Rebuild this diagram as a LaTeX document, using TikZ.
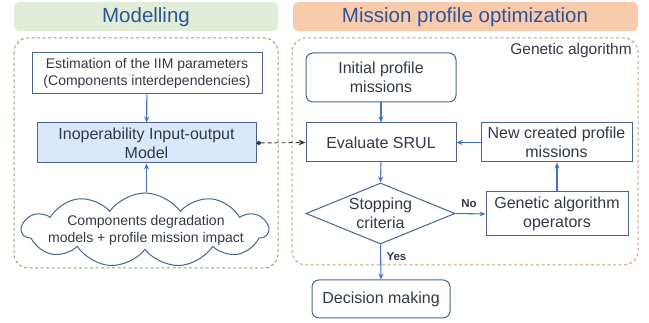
\documentclass[tikz,border=0pt]{standalone}
\usepackage{fontspec}
\setmainfont{Liberation Sans}
\usetikzlibrary{shapes.geometric,shapes.symbols,arrows.meta}
\definecolor{hdrgreen}{HTML}{E0EDD8}
\definecolor{hdrpeach}{HTML}{F8CBAD}
\definecolor{hdrtext}{HTML}{2F5597}
\definecolor{grndash}{HTML}{86AE62}
\definecolor{tandash}{HTML}{C4A183}
\definecolor{boxline}{HTML}{4A6491}
\definecolor{boxtext}{HTML}{333A45}
\definecolor{arrowblue}{HTML}{4472C4}
\definecolor{iimfill}{HTML}{DAE8FC}
\tikzset{
  hdr/.style={draw=none, rounded corners=4pt, text=hdrtext, font=\fontsize{20.5}{24}\selectfont, inner sep=0pt},
  cont/.style={rounded corners=14pt, line width=1pt, dash pattern=on 3pt off 2.5pt},
  procbox/.style={draw=boxline, fill=white, line width=1pt, text=boxtext, align=center, inner sep=0pt},
  rbox/.style={procbox, rounded corners=7pt},
  flow/.style={draw=arrowblue, line width=1.1pt, -{Stealth[length=6pt,width=5pt]}},
  lbl/.style={font=\bfseries\fontsize{11.5}{13}\selectfont, text=boxtext}
}
\begin{document}
\begin{tikzpicture}[x=1pt,y=-1pt]
\useasboundingbox (0,0) rectangle (649,323);
% headers
\fill[hdrgreen, rounded corners=5pt] (14,2) rectangle (278,31);
\node[hdr] (hmod) at (146,17) {Modelling};
\fill[hdrpeach, rounded corners=5pt] (293,2) rectangle (638,31);
\node[hdr] (hmis) at (465,17) {Mission profile optimization};
% containers
\draw[cont, draw=grndash] (14,38) rectangle (278,268);
\draw[cont, draw=tandash] (292,38) rectangle (638,265);
\node[anchor=north east, text=boxtext, font=\fontsize{15.5}{17}\selectfont, inner sep=0pt] (ga) at (632,43) {Genetic algorithm};
% left nodes
\node[procbox, minimum width=230pt, minimum height=41pt, font=\fontsize{14}{16.5}\selectfont] (est) at (147,73.5) {Estimation of the IIM parameters\\(Components interdependencies)};
\node[procbox, fill=iimfill, minimum width=219pt, minimum height=40pt, font=\fontsize{16}{19}\selectfont] (iim) at (146.5,143) {Inoperability Input-output\\Model};
\node[cloud, cloud puffs=11, cloud puff arc=110, aspect=3.8, draw=boxline, fill=white, line width=1pt, inner sep=0pt, minimum width=246pt, minimum height=74pt] (cld) at (145,230) {};
\node[text=boxtext, align=center, inner sep=0pt, font=\fontsize{14}{17}\selectfont] (cldtext) at (146,230) {Components degradation\\models + profile mission impact};
% right nodes
\node[rbox, minimum width=150pt, minimum height=49pt, font=\fontsize{16}{19}\selectfont] (init) at (381,77.5) {Initial profile\\missions};
\node[procbox, minimum width=150pt, minimum height=39pt, font=\fontsize{16}{19}\selectfont] (eval) at (381,142.5) {Evaluate SRUL};
\node[procbox, minimum width=151pt, minimum height=39pt, font=\fontsize{16}{19}\selectfont] (newp) at (556.5,142.5) {New created profile\\missions};
\node[diamond, draw=boxline, fill=white, line width=1pt, text=boxtext, align=center, inner sep=0pt, minimum width=149pt, minimum height=61pt, aspect=2.45, font=\fontsize{16}{19}\selectfont] (stop) at (380.5,213.5) {Stopping\\criteria};
\node[procbox, minimum width=142pt, minimum height=44pt, font=\fontsize{16}{19}\selectfont] (gaop) at (557,214) {Genetic algorithm\\operators};
\node[rbox, minimum width=138pt, minimum height=38pt, font=\fontsize{16}{19}\selectfont] (dec) at (381,299) {Decision making};
% connectors
\draw[flow] (est) -- (iim);
\draw[flow] (iim.south |- cld.north) -- (iim.south);
\draw[flow] (init) -- (eval);
\draw[flow] (eval.south) -- (stop.north);
\draw[flow] (stop.east) -- node[lbl, above, pos=0.45, yshift=2pt] {No} (gaop.west);
\draw[flow] (gaop.north) -- (gaop.north |- newp.south);
\draw[flow] (newp.west) -- (eval.east);
\draw[flow] (stop.south) -- node[lbl, right, pos=0.35, xshift=2pt] {Yes} (dec.north);
\draw[draw=black!80, line width=0.9pt, dash pattern=on 4pt off 3pt, {Circle[length=4.5pt]}-{Stealth[length=7pt,width=5.5pt]}] (iim.east) -- (eval.west);
\end{tikzpicture}
\end{document}
